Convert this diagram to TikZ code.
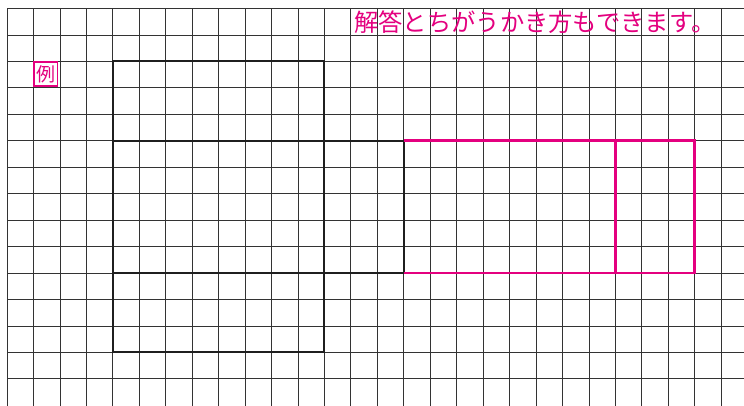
\documentclass[tikz,border=0pt]{standalone}
\usepackage{fontspec}
\newfontfamily\jp{Noto Sans CJK JP}
\definecolor{pinkans}{HTML}{E4007F}
\definecolor{gridc}{HTML}{333333}
\begin{document}
\begin{tikzpicture}[
  gridline/.style={draw=gridc, line width=0.8pt},
  netline/.style={draw=black!88, line width=2pt, line join=miter},
  ansline/.style={draw=pinkans, line width=2.6pt, line join=miter},
  note/.style={text=pinkans, font=\jp\fontsize{24.3}{26}\selectfont, inner sep=0pt}
]
\clip (0,0) rectangle (744pt,-405pt);
\fill[white] (0,0) rectangle (744pt,-405pt);
\begin{scope}[shift={(7pt,-8.5pt)}, x=26.45pt, y=-26.45pt]
  % grid
  \foreach \i in {0,...,27} \draw[gridline] (\i,0) -- (\i,15.2);
  \foreach \j in {0,...,14} \draw[gridline] (0,\j) -- (28.2,\j);
  % corners of the net
  \coordinate (A) at (4,2);   \coordinate (B) at (12,2);
  \coordinate (C) at (12,5);  \coordinate (D) at (15,5);
  \coordinate (E) at (15,10); \coordinate (F) at (12,10);
  \coordinate (G) at (12,13); \coordinate (H) at (4,13);
  \coordinate (L1) at (4,5);  \coordinate (L2) at (4,10);
  \coordinate (P1) at (26,5); \coordinate (P2) at (26,10);
  \coordinate (Q1) at (23,5); \coordinate (Q2) at (23,10);
  % black net
  \draw[netline] (A) -- (B) -- (C) -- (D) -- (E) -- (F) -- (G) -- (H) -- cycle;
  \draw[netline] (L1) -- (C);
  \draw[netline] (L2) -- (F);
  \draw[netline] (C) -- (F);
  % pink answer
  \draw[ansline] (D) -- (P1) -- (P2) -- (E);
  \draw[ansline] (Q1) -- (Q2);
  % example label
  \node[draw=pinkans, fill=white, line width=1.1pt, text=pinkans, font=\jp\fontsize{19}{20}\selectfont,
        inner sep=0pt, minimum width=23.5pt, minimum height=24pt, anchor=north west]
        (rei) at (1,2) {例};
\end{scope}
\node[note, anchor=west] (msg) at (354pt,-22pt) {解答とちがうかき方もできます。};
\end{tikzpicture}
\end{document}
